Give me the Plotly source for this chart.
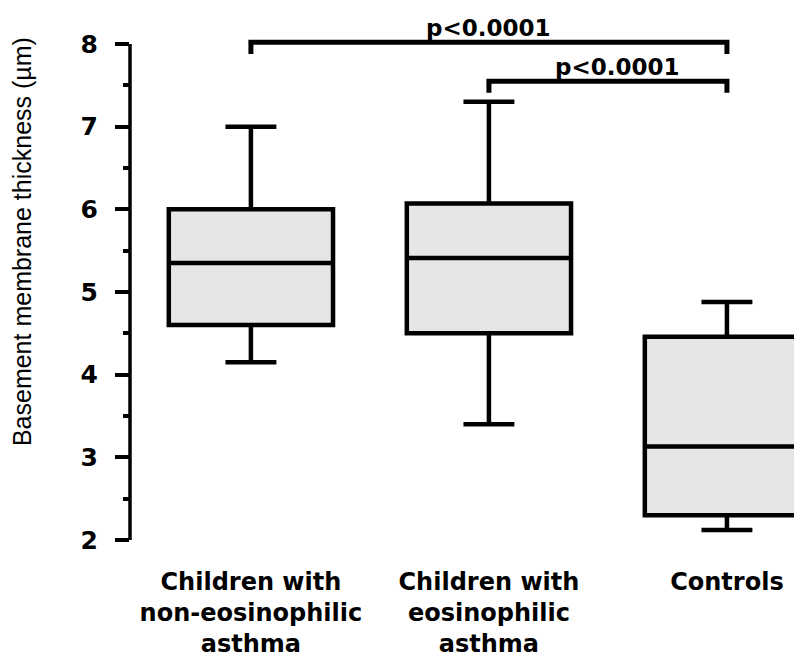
import plotly.graph_objects as go

# ---- data ----
categories = ["Children with<br>non-eosinophilic<br>asthma",
              "Children with<br>eosinophilic<br>asthma",
              "Controls"]
positions = [0, 1, 2]
lower_whisker = [4.15, 3.40, 2.12]
q1_values = [4.60, 4.50, 2.30]
median_values = [5.35, 5.41, 3.13]
q3_values = [6.00, 6.07, 4.46]
upper_whisker = [7.00, 7.30, 4.88]

y_ticks = [2, 3, 4, 5, 6, 7, 8]
y_minor_ticks = [2.5, 3.5, 4.5, 5.5, 6.5, 7.5]

# significance brackets: (from, to, level, label, label x)
bracket_from = [0, 1]
bracket_to = [2, 2]
bracket_level = [8.02, 7.55]
bracket_label = ["p<0.0001", "p<0.0001"]
bracket_label_x = [1.0, 1.54]
bracket_drop = 0.14

FONT = "Liberation Sans, Arial, sans-serif"
BOLD = "DejaVu Sans, Liberation Sans, Arial, sans-serif"

fig = go.Figure()
fig.add_trace(go.Box(
    x=positions,
    q1=q1_values, median=median_values, q3=q3_values,
    lowerfence=lower_whisker, upperfence=upper_whisker,
    width=0.69, whiskerwidth=0.31,
    fillcolor="#e6e6e6",
    line=dict(color="black", width=4.5),
    boxpoints=False,
    showlegend=False,
))

shapes = []
# y axis line spanning only 2..8
shapes.append(dict(type="line", xref="paper", yref="y", x0=0, x1=0,
                   y0=y_ticks[0], y1=y_ticks[-1],
                   line=dict(color="black", width=3.5)))
annotations = []
for a, b, lvl, lab, lx in zip(bracket_from, bracket_to, bracket_level,
                              bracket_label, bracket_label_x):
    shapes.append(dict(type="path", xref="x", yref="y",
                       path=f"M {a},{lvl - bracket_drop} L {a},{lvl} L {b},{lvl} L {b},{lvl - bracket_drop}",
                       line=dict(color="black", width=5)))
    annotations.append(dict(x=lx, y=lvl, xref="x", yref="y", text=lab,
                            showarrow=False, yanchor="bottom", yshift=-1,
                            font=dict(family=BOLD, size=23, color="black",
                                      weight="bold")))

annotations.append(dict(x=-0.1588, y=0.560, xref="paper", yref="paper",
                        xanchor="center", yanchor="middle",
                        text="Basement membrane thickness (µm)",
                        textangle=-90, showarrow=False,
                        font=dict(family=FONT, size=25, color="black")))

fig.update_layout(
    width=802, height=670,
    margin=dict(l=122, r=0, t=0, b=138),
    paper_bgcolor="white", plot_bgcolor="white",
    shapes=shapes, annotations=annotations,
    xaxis=dict(range=[-0.508, 2.349], tickvals=positions, ticktext=categories,
               showgrid=False, zeroline=False, showline=False, ticks="",
               ticklabelstandoff=25,
               tickfont=dict(family=BOLD, size=24, color="black", weight="bold")),
    yaxis=dict(range=[2, 8.4355], tickvals=y_ticks, showgrid=False,
               zeroline=False, showline=False,
               ticks="outside", ticklen=14, tickwidth=3.5, tickcolor="black",
               ticklabelstandoff=12,
               minor=dict(tickvals=y_minor_ticks, ticks="outside", ticklen=6,
                          tickwidth=3.5, tickcolor="black"),
               tickfont=dict(family=BOLD, size=25, color="black", weight="bold")),
)

fig.write_html("out.html")
